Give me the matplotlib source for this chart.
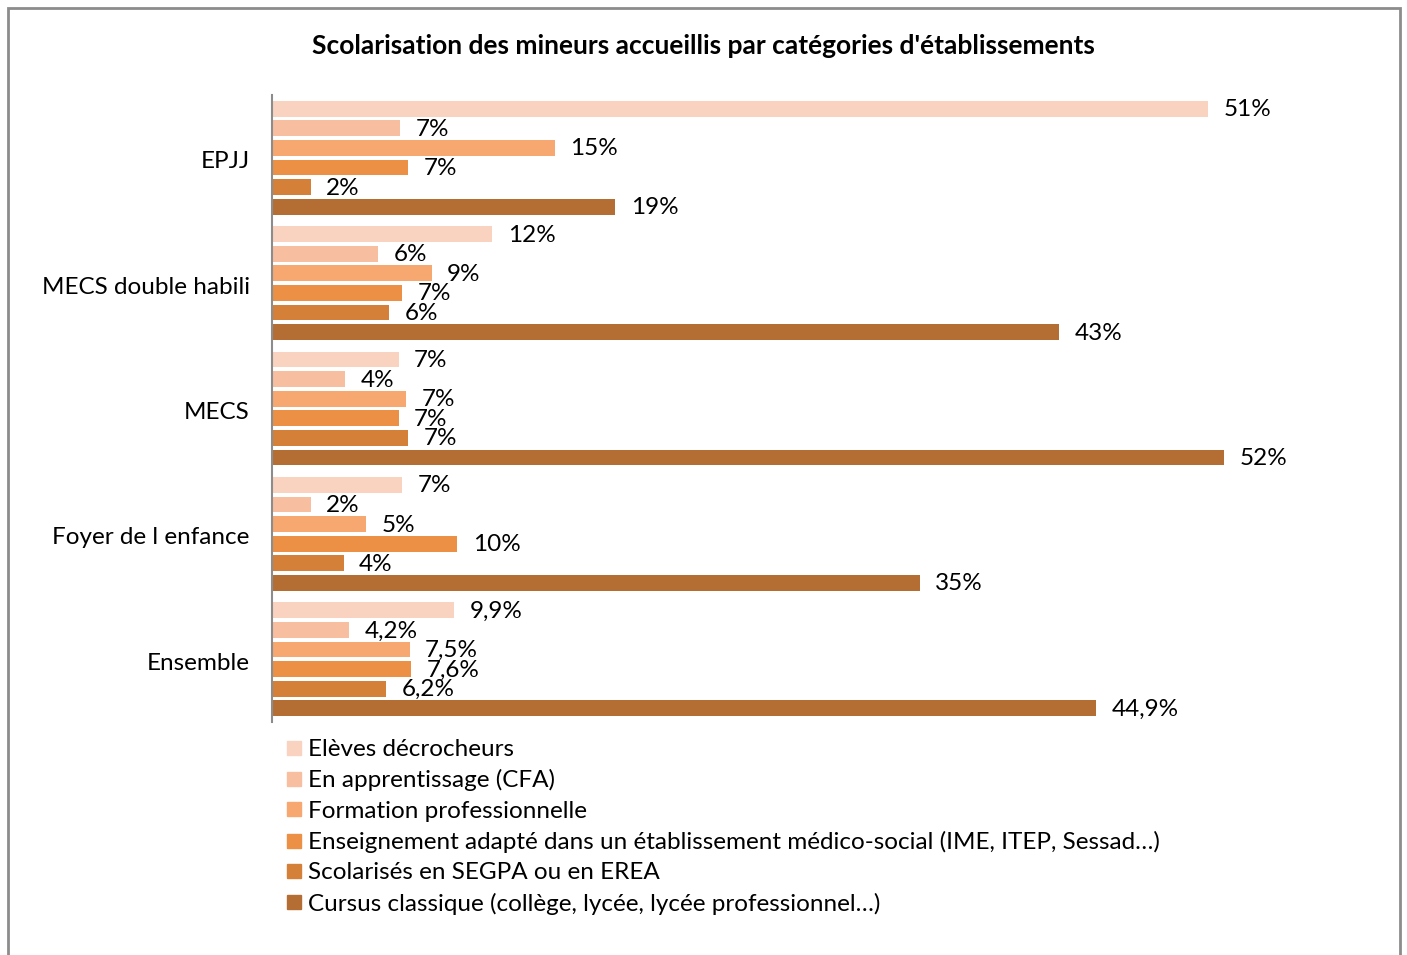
import numpy as np
import matplotlib.pyplot as plt
from matplotlib.patches import Rectangle
from matplotlib.lines import Line2D

plt.rcParams['font.family'] = ['Lato', 'DejaVu Sans']

categories = ["EPJJ", "MECS double habili", "MECS", "Foyer de l enfance", "Ensemble"]
series = [
    "Elèves décrocheurs",
    "En apprentissage (CFA)",
    "Formation professionnelle",
    "Enseignement adapté dans un établissement médico-social (IME, ITEP, Sessad…)",
    "Scolarisés en SEGPA ou en EREA",
    "Cursus classique (collège, lycée, lycée professionnel…)",
]
# valeurs (en %) par catégorie, dans l'ordre des séries
decrocheurs = [51.0, 12.0, 6.9, 7.1, 9.9]
apprentissage = [7.0, 5.8, 4.0, 2.1, 4.2]
formation_pro = [15.4, 8.7, 7.3, 5.1, 7.5]
ens_adapte = [7.4, 7.1, 6.9, 10.1, 7.6]
segpa = [2.1, 6.4, 7.4, 3.9, 6.2]
cursus = [18.7, 42.9, 51.9, 35.3, 44.9]
decimals = [0, 0, 0, 0, 1]   # nb de décimales affichées par catégorie

colors = ["#F9D3C0", "#F8BEA0", "#F6A870", "#EB9045", "#D48038", "#B46E33"]

data = np.array([decrocheurs, apprentissage, formation_pro, ens_adapte, segpa, cursus])

fig = plt.figure(figsize=(14.07, 9.55), dpi=100)
ax = fig.add_axes([272/1407, 1 - 722/955, (1373-272)/1407, (722-95)/955])

fs = 17.5
group = 6.4
for j in range(len(series)):
    y = np.arange(len(categories)) * group + 0.7 + j
    ax.barh(y, data[j], height=0.8, color=colors[j], label=series[j])
    for i, v in enumerate(data[j]):
        txt = ("{:.%df}%%" % decimals[i]).format(v).replace(".", ",")
        ax.text(v + 0.85, y[i] + 0.05, txt, va="center", ha="left", fontsize=fs)

ax.set_xlim(0, 60)
ax.set_ylim(len(categories) * group, 0)
ax.set_yticks(np.arange(len(categories)) * group + group / 2 + 0.1)
ax.set_yticklabels(categories, fontsize=fs)
ax.tick_params(axis="y", length=0, pad=16)
ax.set_xticks([])
for s in ["top", "right", "bottom"]:
    ax.spines[s].set_visible(False)
ax.spines["left"].set_color("#8c8c8c")
ax.spines["left"].set_linewidth(1.5)

fig.text(0.5, 1 - 46/955, "Scolarisation des mineurs accueillis par catégories d'établissements",
         ha="center", va="center", fontsize=19, fontweight="bold")

handles = [Line2D([], [], marker="s", linestyle="none", markersize=9.5,
                  markerfacecolor=c, markeredgecolor=c) for c in colors]
fig.legend(handles, series, loc="upper left", bbox_to_anchor=(268/1407, 1 - 727/955),
           frameon=False, fontsize=fs, handletextpad=0.05, labelspacing=0.38,
           handlelength=1.1, borderpad=0)

fig.patches.append(Rectangle((8/1407, -0.05), (1400-8)/1407, 1.05 - 8/955,
                             transform=fig.transFigure, fill=False,
                             edgecolor="#8c8c8c", linewidth=2))

fig.savefig("out.png", dpi=100, facecolor="white")
